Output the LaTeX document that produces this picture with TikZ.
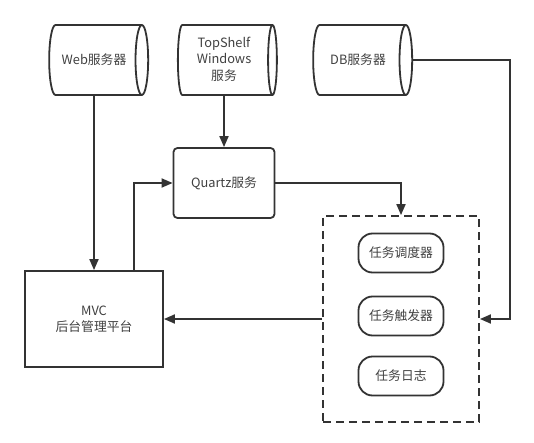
\documentclass[tikz,border=0pt]{standalone}
\usepackage{fontspec}
\setmainfont{Noto Sans CJK SC}
\usetikzlibrary{positioning,arrows.meta,shapes.geometric}

\definecolor{linegray}{HTML}{333333}
\definecolor{textgray}{HTML}{404040}

\begin{document}
\begin{tikzpicture}[
    x=1pt, y=-1pt,
    server/.style={
        cylinder,
        draw=linegray,
        line width=1.8pt,
        aspect=0.8,
        inner xsep=0pt,
        inner ysep=2pt,
        minimum height=99pt,
        minimum width=70pt,
        align=center,
        text=textgray,
        font=\fontsize{12.8}{16.5}\selectfont
    },
    box/.style={
        rectangle,
        draw=linegray,
        line width=1.8pt,
        align=center,
        text=textgray,
        font=\fontsize{12.8}{16.5}\selectfont
    },
    task/.style={
        rectangle,
        draw=linegray,
        line width=1.8pt,
        rounded corners=14pt,
        minimum width=85pt,
        minimum height=39pt,
        text=textgray,
        font=\fontsize{12.8}{16.5}\selectfont
    },
    arrow/.style={
        -{Triangle[length=11pt,width=9pt]},
        draw=linegray,
        line width=1.8pt
    }
]

\useasboundingbox (0,0) rectangle (534,443);

% servers
\node[server] (web) at (94,60) {Web服务器};
\node[server] (topshelf) at (224,60)
    {\raisebox{-7pt}{\smash{\begin{tabular}{@{}c@{}}TopShelf\\Windows\\服务\end{tabular}}}};
\node[server] (db) at (358,60) {DB服务器};

% services
\node[box, rounded corners=4pt, minimum width=101pt, minimum height=70pt]
    (quartz) at (224,183) {Quartz服务};

\node[box, minimum width=138pt, minimum height=96pt]
    (mvc) at (94,319) {MVC\\后台管理平台};

\node[box, dash pattern=on 8pt off 5pt, minimum width=156pt, minimum height=206pt]
    (tasks) at (401,319) {};

\node[task] (sched) at (401,253) {任务调度器};
\node[task] (trig) at (401,316) {任务触发器};
\node[task] (log) at (401,376) {任务日志};

% connections
\draw[arrow] (web) -- (mvc);
\draw[arrow] (topshelf) -- (quartz);
\draw[arrow] ([xshift=40pt]mvc.north) |- (quartz.west);
\draw[arrow] (quartz.east) -| (tasks.north);
\draw[arrow] (tasks) -- (mvc);
\draw[arrow] (db.east) -| ([xshift=30pt]tasks.east) -- (tasks.east);

\end{tikzpicture}
\end{document}
